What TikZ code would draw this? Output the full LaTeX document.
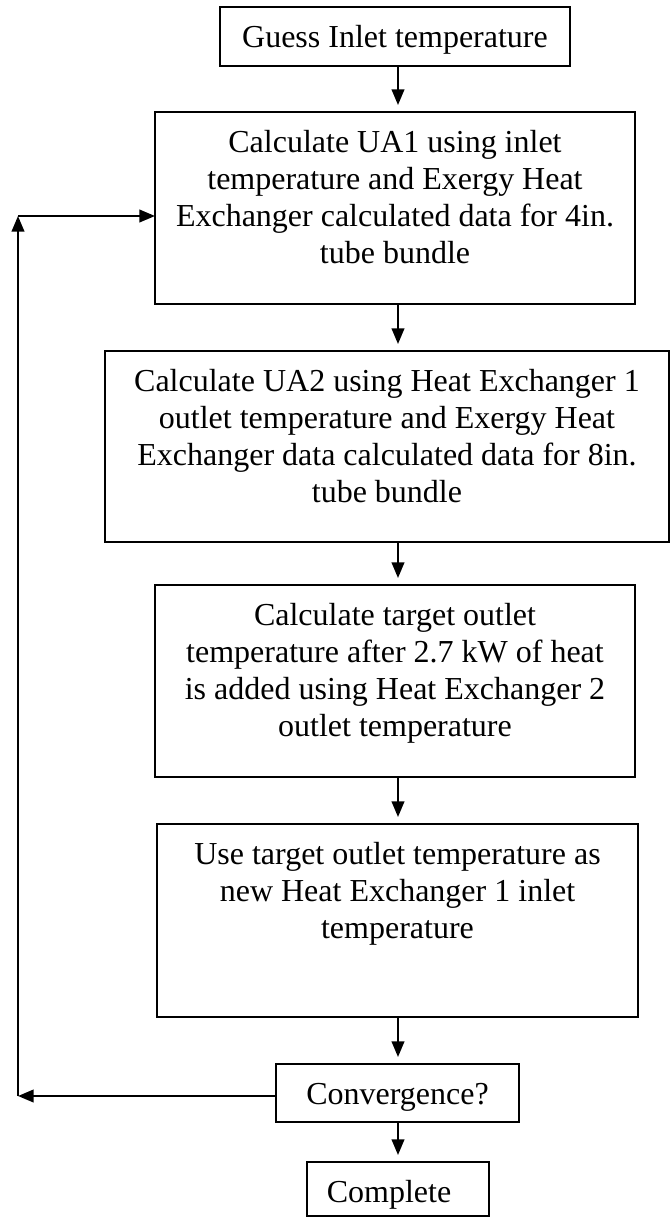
\documentclass[tikz,border=0pt]{standalone}
\usepackage{fontspec}
\setmainfont{Liberation Serif}
\usetikzlibrary{arrows.meta}
\newcommand{\bxt}[3]{\parbox[c][#2][t]{#1}{\fontsize{16pt}{18.5pt}\selectfont\centering\rule{0pt}{20pt}#3\par}}
\begin{document}
\begin{tikzpicture}[x=0.5pt,y=-0.5pt,
  box/.style={draw,line width=1pt,inner sep=0pt,outer sep=0pt},
  arr/.style={line width=1pt,-{Triangle[length=7.8pt,width=6.3pt]}},
  down/.style={arr,shorten >=3.5pt}]
\useasboundingbox (0,0) rectangle (671,1217);
\node[box] (guess) at (395,36.5) {\bxt{175pt}{29.5pt}{Guess Inlet temperature}};
\node[box] (ua1) at (395,208) {\bxt{240pt}{96pt}{Calculate UA1 using inlet\\ temperature and Exergy Heat\\ Exchanger calculated data for 4in.\\ tube bundle}};
\node[box] (ua2) at (387,446.5) {\bxt{282pt}{95.5pt}{Calculate UA2 using Heat Exchanger 1\\ outlet temperature and Exergy Heat\\ Exchanger data calculated data for 8in.\\ tube bundle}};
\node[box] (tgt) at (395,681) {\bxt{240pt}{96pt}{Calculate target outlet\\ temperature after 2.7 kW of heat\\ is added using Heat Exchanger 2\\ outlet temperature}};
\node[box] (use) at (397.5,920.5) {\bxt{240.5pt}{96.5pt}{Use target outlet temperature as\\ new Heat Exchanger 1 inlet\\ temperature}};
\node[box] (conv) at (397.5,1093) {\bxt{121.5pt}{29pt}{Convergence?}};
\node[box] (done) at (398,1189) {\bxt{91pt}{27pt}{Complete\hspace*{9pt}}};
\coordinate (col) at (398,0);
\coordinate (bl) at (18,1096);
\coordinate (tl) at (18,216);
\draw[down] (guess.south -| col) -- (ua1.north -| col);
\draw[down] (ua1.south -| col) -- (ua2.north -| col);
\draw[down] (ua2.south -| col) -- (tgt.north -| col);
\draw[down] (tgt.south -| col) -- (use.north -| col);
\draw[down] (use.south -| col) -- (conv.north -| col);
\draw[down] (conv.south -| col) -- (done.north -| col);
\draw[arr] (conv.west |- bl) -- (bl);
\draw[arr] (bl) -- (tl);
\draw[arr] (tl) -- (tl -| ua1.west);
\end{tikzpicture}
\end{document}
